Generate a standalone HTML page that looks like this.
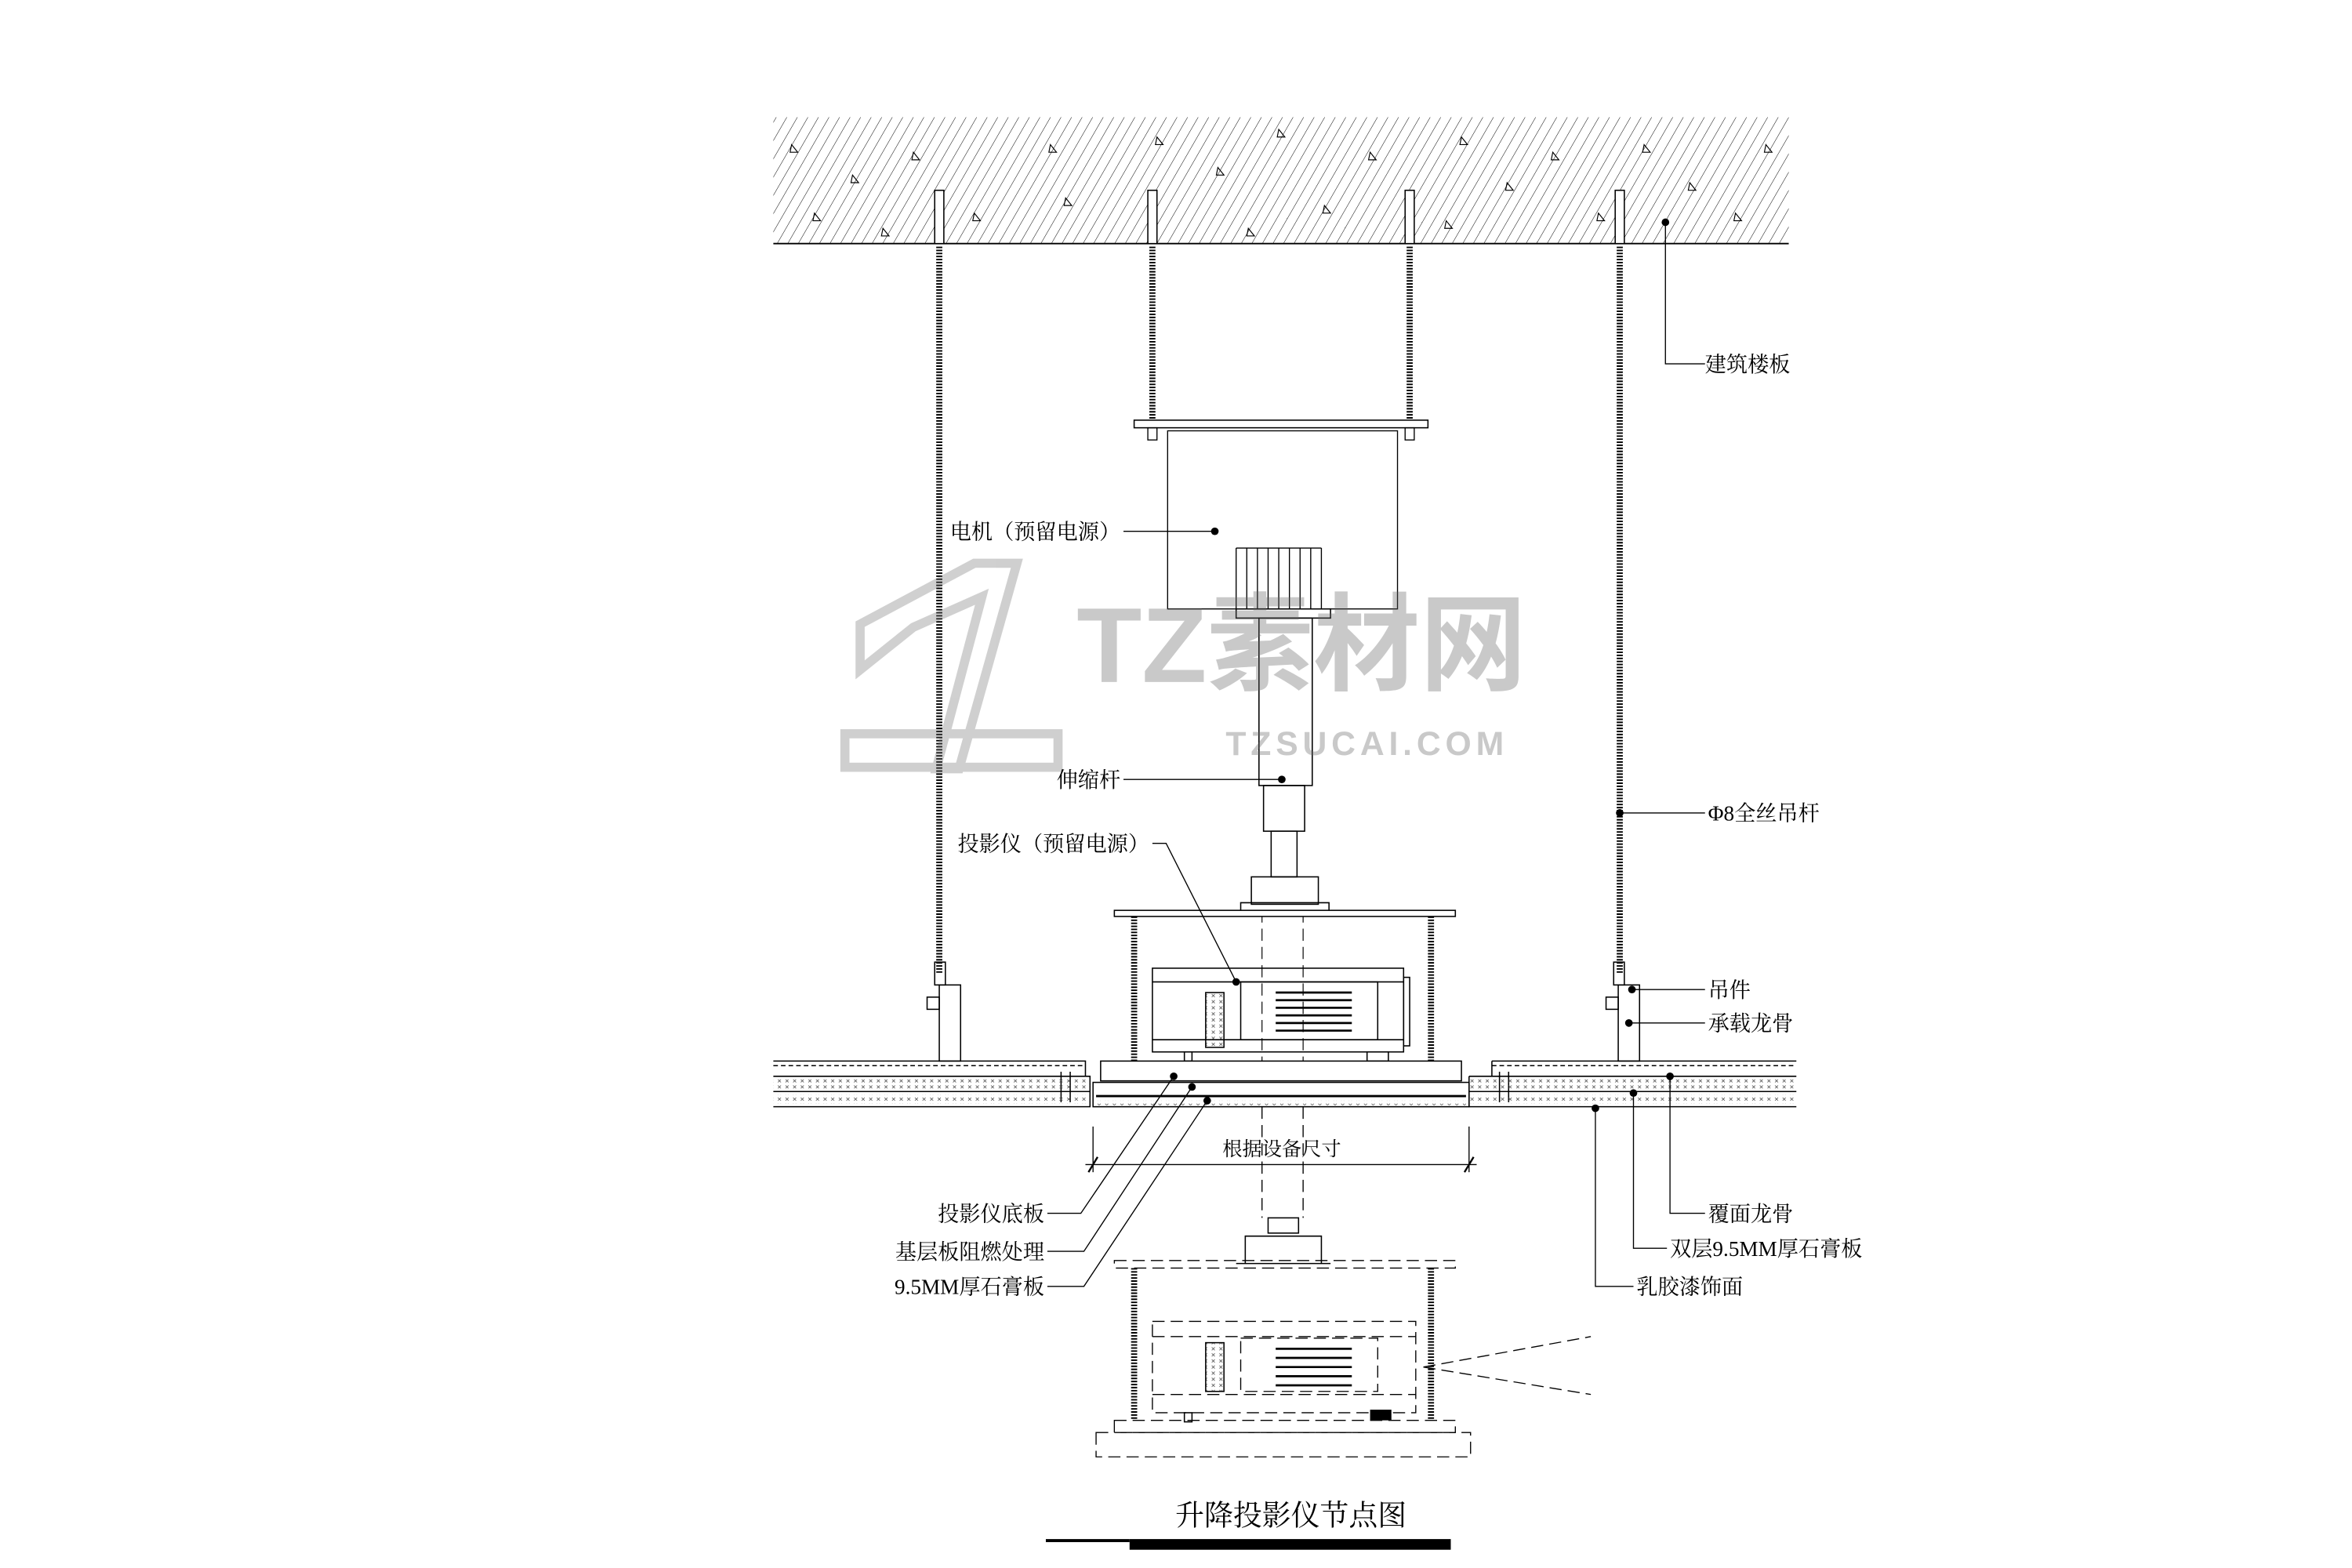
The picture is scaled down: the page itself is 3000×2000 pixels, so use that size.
<!DOCTYPE html>
<html><head><meta charset="utf-8"><style>
html,body{margin:0;padding:0;background:#fff}
svg{display:block}
text{font-family:"Liberation Serif","Noto Serif CJK SC","Noto Sans CJK SC",serif;fill:#000}
</style></head><body>
<svg width="3000" height="2000" viewBox="0 0 1545 1030" xmlns="http://www.w3.org/2000/svg">
<defs>
<pattern id="hatch" width="6" height="6" patternUnits="userSpaceOnUse" patternTransform="rotate(30)">
<line x1="0" y1="0" x2="0" y2="6" stroke="#000" stroke-width="0.5"/>
</pattern>
<pattern id="xx" width="5" height="4" patternUnits="userSpaceOnUse">
<path d="M1 1 L3 3 M3 1 L1 3" stroke="#444" stroke-width="0.4"/>
</pattern>
</defs>
<rect width="1545" height="1030" fill="#fff"/>

<!-- slab -->
<rect x="508" y="77" width="667" height="83" fill="url(#hatch)"/>
<line x1="508" y1="160" x2="1175" y2="160" stroke="#000" stroke-width="1"/>
<g fill="none" stroke="#000" stroke-width="0.6">
<path d="M520 95l4 5h-5z M560 115l4 5h-5z M600 100l4 5h-5z M640 140l4 5h-5z M535 140l4 5h-5z M690 95l4 5h-5z M700 130l4 5h-5z M760 90l4 5h-5z M800 110l4 5h-5z M840 85l4 5h-5z M870 135l4 5h-5z M900 100l4 5h-5z M960 90l4 5h-5z M990 120l4 5h-5z M1020 100l4 5h-5z M1050 140l4 5h-5z M1080 95l4 5h-5z M1110 120l4 5h-5z M1140 140l4 5h-5z M1160 95l4 5h-5z M580 150l4 5h-5z M820 150l4 5h-5z M950 145l4 5h-5z"/>
</g>
<!-- anchors -->
<g fill="#fff" stroke="#000" stroke-width="0.8">
<rect x="614" y="125" width="6" height="35"/><rect x="754" y="125" width="6" height="35"/>
<rect x="923" y="125" width="6" height="35"/><rect x="1061" y="125" width="6" height="35"/>
</g>
<!-- rods -->
<g stroke="#000" stroke-width="4" stroke-dasharray="1 1">
<line x1="617" y1="162" x2="617" y2="640"/>
<line x1="757" y1="162" x2="757" y2="278"/>
<line x1="926" y1="162" x2="926" y2="278"/>
<line x1="1064" y1="162" x2="1064" y2="640"/>
<line x1="745" y1="602" x2="745" y2="697"/>
<line x1="940" y1="602" x2="940" y2="697"/>
<line x1="745" y1="833" x2="745" y2="932"/>
<line x1="940" y1="833" x2="940" y2="932"/>
</g>
<!-- motor plate & box -->
<rect x="745" y="276" width="193" height="5" fill="#fff" stroke="#000" stroke-width="0.8"/>
<rect x="754" y="281" width="6" height="8" fill="none" stroke="#000" stroke-width="0.7"/>
<rect x="923" y="281" width="6" height="8" fill="none" stroke="#000" stroke-width="0.7"/>
<rect x="767" y="283" width="151" height="117" fill="none" stroke="#000" stroke-width="0.7"/>
<g stroke="#000" stroke-width="0.7" fill="none">
<path d="M812 360v40 M819 360v40 M826 360v40 M833 360v40 M840 360v40 M847 360v40 M854 360v40 M861 360v40 M868 360v40 M812 360h56"/>
</g>
<!-- telescopic tube -->
<g fill="none" stroke="#000" stroke-width="0.8">
<rect x="812" y="400" width="62" height="6"/>
<rect x="827" y="406" width="35" height="110"/>
<rect x="830" y="516" width="27" height="30"/>
<rect x="835" y="546" width="17" height="30"/>
<rect x="822" y="576" width="44" height="18"/>
<path d="M815 598v-5h58v5"/>
</g>
<line x1="829" y1="598" x2="829" y2="697" stroke="#000" stroke-width="0.6" stroke-dasharray="8 4"/>
<line x1="856" y1="598" x2="856" y2="697" stroke="#000" stroke-width="0.6" stroke-dasharray="8 4"/>
<!-- upper projector frame -->
<rect x="732" y="598" width="224" height="4" fill="#fff" stroke="#000" stroke-width="0.8"/>
<g fill="none" stroke="#000" stroke-width="0.8">
<rect x="757" y="636" width="165" height="55"/>
<line x1="757" y1="645" x2="922" y2="645"/>
<line x1="757" y1="683" x2="922" y2="683"/>
<rect x="815" y="645" width="90" height="38"/>
<rect x="922" y="642" width="4" height="45"/>
<rect x="778" y="691" width="5" height="6"/><rect x="898" y="691" width="14" height="6"/>
</g>
<rect x="792" y="652" width="12" height="36" fill="url(#xx)" stroke="#000" stroke-width="0.8"/>
<g stroke="#000" stroke-width="1.4">
<path d="M838 652h50 M838 657h50 M838 662h50 M838 667h50 M838 672h50 M838 677h50"/>
</g>
<!-- projector base boards -->
<g fill="#fff" stroke="#000" stroke-width="0.8">
<rect x="723" y="697" width="237" height="13"/>
<rect x="718" y="711" width="247" height="16"/>
</g>
<line x1="720" y1="720" x2="963" y2="720" stroke="#000" stroke-width="1.5"/>
<rect x="720" y="723" width="243" height="3" fill="url(#xx)"/>
<!-- ceiling -->
<g fill="none" stroke="#000" stroke-width="0.8">
<path d="M508 697h205v10 M508 707h208v20h-208 M508 717h208"/>
<path d="M508 700h205" stroke-dasharray="3 2"/>
<path d="M965 707v20h215 M965 707h215 M965 717h215 M980 697h200 M980 697v10"/>
<path d="M980 700h200" stroke-dasharray="3 2"/>
<path d="M697 704v20 M703 704v20 M985 704v20 M991 704v20"/>
</g>
<rect x="508" y="709" width="208" height="6" fill="url(#xx)"/>
<rect x="508" y="719" width="208" height="6" fill="url(#xx)"/>
<rect x="965" y="709" width="215" height="6" fill="url(#xx)"/>
<rect x="965" y="719" width="215" height="6" fill="url(#xx)"/>
<!-- hangers -->
<g fill="none" stroke="#000" stroke-width="0.8">
<rect x="614" y="632" width="7" height="15"/><rect x="617" y="647" width="14" height="50"/><rect x="609" y="655" width="8" height="8"/>
<rect x="1060" y="632" width="7" height="15"/><rect x="1063" y="647" width="14" height="50"/><rect x="1055" y="655" width="8" height="8"/>
</g>
<!-- dimension -->
<g stroke="#000" stroke-width="0.7">
<line x1="713" y1="765" x2="970" y2="765"/>
<line x1="718" y1="740" x2="718" y2="770"/><line x1="965" y1="740" x2="965" y2="770"/>
<line x1="715" y1="770" x2="721" y2="760" stroke-width="1.2"/><line x1="962" y1="770" x2="968" y2="760" stroke-width="1.2"/>
</g>
<text x="842" y="759" font-size="13" text-anchor="middle">根据设备尺寸</text>
<!-- lower (dashed) projector -->
<g fill="none" stroke="#000" stroke-width="0.7" stroke-dasharray="8 4">
<line x1="829" y1="727" x2="829" y2="800"/><line x1="856" y1="727" x2="856" y2="800"/>
<rect x="732" y="828" width="224" height="5"/>
<rect x="757" y="868" width="173" height="60"/>
<line x1="757" y1="878" x2="930" y2="878"/><line x1="757" y1="916" x2="930" y2="916"/>
<rect x="815" y="879" width="90" height="35"/>
<rect x="732" y="933" width="224" height="8"/>
<rect x="720" y="941" width="246" height="16"/>
<path d="M935 898 L1045 878 M935 898 L1045 916"/>
</g>
<g fill="none" stroke="#000" stroke-width="0.8">
<rect x="833" y="800" width="20" height="10"/>
<path d="M818 830v-18h50v18 M812 830h62"/>
</g>
<rect x="792" y="882" width="12" height="32" fill="url(#xx)" stroke="#000" stroke-width="0.8"/>
<g stroke="#000" stroke-width="1.4"><path d="M838 886h50 M838 892h50 M838 898h50 M838 904h50 M838 910h50"/></g>
<rect x="778" y="928" width="5" height="6" fill="none" stroke="#000" stroke-width="0.8"/>
<rect x="900" y="926" width="14" height="7" fill="#000"/>

<!-- watermark -->
<g opacity="0.35">
<path d="M565 410 L640 370 L668 370 L630 505 L615 505 L645 392 L600 412 L565 440 Z" fill="none" stroke="#777" stroke-width="6"/>
<rect x="555" y="482" width="140" height="22" fill="none" stroke="#777" stroke-width="6"/>
<text x="855" y="448" font-size="70" font-weight="bold" text-anchor="middle" style="fill:#666;font-family:'Liberation Sans','Noto Sans CJK SC',sans-serif">TZ素材网</text>
<text x="898" y="496" font-size="22" font-weight="bold" text-anchor="middle" letter-spacing="3" style="fill:#666;font-family:'Liberation Sans',sans-serif">TZSUCAI.COM</text>
</g>

<!-- leaders -->
<g stroke="#000" stroke-width="0.7" fill="none">
<path d="M1094 146 V239 H1120"/>
<path d="M738 349 H798"/>
<path d="M738 512 H842"/>
<path d="M757 554 H766 L812 645"/>
<path d="M1072 650 H1120"/>
<path d="M1070 672 H1120"/>
<path d="M688 797 H710 L771 707"/>
<path d="M688 822 H712 L783 714"/>
<path d="M688 845 H712 L793 723"/>
<path d="M1097 707 V797 H1120"/>
<path d="M1073 718 V820 H1095"/>
<path d="M1048 728 V845 H1073"/>
<path d="M1064 534 H1120"/>
</g>
<g fill="#000">
<circle cx="1094" cy="146" r="2.5"/><circle cx="798" cy="349" r="2.5"/><circle cx="842" cy="512" r="2.5"/>
<circle cx="812" cy="645" r="2.5"/><circle cx="1072" cy="650" r="2.5"/><circle cx="1070" cy="672" r="2.5"/>
<circle cx="771" cy="707" r="2.5"/><circle cx="783" cy="714" r="2.5"/><circle cx="793" cy="723" r="2.5"/>
<circle cx="1097" cy="707" r="2.5"/><circle cx="1073" cy="718" r="2.5"/><circle cx="1048" cy="728" r="2.5"/>
<circle cx="1064" cy="534" r="2.5"/>
</g>
<g font-size="14">
<text x="1120" y="244">建筑楼板</text>
<text x="736" y="354" text-anchor="end">电机（预留电源）</text>
<text x="736" y="517" text-anchor="end">伸缩杆</text>
<text x="755" y="559" text-anchor="end">投影仪（预留电源）</text>
<text x="1122" y="539">Φ8全丝吊杆</text>
<text x="1122" y="655">吊件</text>
<text x="1122" y="677">承载龙骨</text>
<text x="686" y="802" text-anchor="end">投影仪底板</text>
<text x="686" y="827" text-anchor="end">基层板阻燃处理</text>
<text x="686" y="850" text-anchor="end">9.5MM厚石膏板</text>
<text x="1122" y="802">覆面龙骨</text>
<text x="1097" y="825">双层9.5MM厚石膏板</text>
<text x="1075" y="850">乳胶漆饰面</text>
</g>
<!-- title -->
<text x="848" y="1002" font-size="19" text-anchor="middle">升降投影仪节点图</text>
<rect x="687" y="1011" width="55" height="2" fill="#000"/>
<rect x="742" y="1011" width="211" height="7" fill="#000"/>
</svg>
</body></html>
